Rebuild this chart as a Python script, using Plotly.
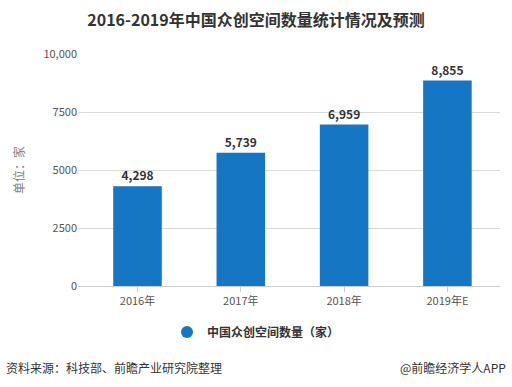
import plotly.graph_objects as go

categories = ["2016年", "2017年", "2018年", "2019年E"]
values = [4298, 5739, 6959, 8855]
value_labels = ["4,298", "5,739", "6,959", "8,855"]
y_tickvals = [0, 2500, 5000, 7500, 10000]
y_ticktext = ["0", "2500", "5000", "7500", "10,000"]
series_name = "中国众创空间数量（家）"

FONT = "Noto Sans CJK SC, Microsoft YaHei, sans-serif"
BAR = "#1576c4"

fig = go.Figure()
fig.add_trace(go.Bar(
    x=list(range(len(categories))), y=values, width=0.47,
    marker=dict(color=BAR, line=dict(width=0)),
    text=["<b>%s</b>" % t for t in value_labels], textposition="outside", cliponaxis=False,
    textfont=dict(family=FONT, size=12, color="#333333"),
    showlegend=False,
))
fig.add_trace(go.Scatter(
    x=[None], y=[None], mode="markers", name="<b>%s</b>" % series_name,
    marker=dict(symbol="circle", size=13, color=BAR),
))

fig.update_layout(
    width=512, height=387,
    margin=dict(l=78, r=12, t=54, b=101, autoexpand=False),
    paper_bgcolor="white", plot_bgcolor="white",
    font=dict(family=FONT, color="#555555", size=11),
    title=dict(text="<b>2016-2019年中国众创空间数量统计情况及预测</b>",
               x=0.5, xref="container", xanchor="center",
               y=1 - 20 / 387, yref="container", yanchor="middle",
               font=dict(family=FONT, size=16, color="#333333")),
    xaxis=dict(tickmode="array", tickvals=list(range(len(categories))), ticktext=categories,
               range=[-0.576, 3.509], showgrid=False, showline=True, linecolor="#cccccc",
               ticks="outside", ticklen=5, tickcolor="#cccccc",
               tickfont=dict(family=FONT, size=11, color="#555555")),
    yaxis=dict(range=[0, 10000], tickmode="array", tickvals=y_tickvals, ticktext=y_ticktext,
               showgrid=True, gridcolor="#d9d9d9", gridwidth=1, zeroline=False,
               ticks="", tickfont=dict(family=FONT, size=11, color="#555555")),
    legend=dict(orientation="h", x=(256 - 78) / 422, xanchor="center",
                y=-(332 - 286) / 232, yanchor="middle",
                font=dict(family=FONT, size=12, color="#333333"),
                itemsizing="constant"),
    showlegend=True,
    bargap=0.5,
)

fig.add_annotation(text="单位：家", textangle=-90, xref="paper", yref="paper",
                   x=(18 - 78) / 422, xanchor="center", y=(286 - 170) / 232, yanchor="middle",
                   showarrow=False, font=dict(family=FONT, size=12, color="#808080"))
fig.add_annotation(text="资料来源：科技部、前瞻产业研究院整理", xref="paper", yref="paper",
                   x=(4 - 78) / 422, xanchor="left", y=-(367 - 286) / 232, yanchor="middle",
                   showarrow=False, font=dict(family=FONT, size=12, color="#333333"))
fig.add_annotation(text="@前瞻经济学人APP", xref="paper", yref="paper",
                   x=(508 - 78) / 422, xanchor="right", y=-(367 - 286) / 232, yanchor="middle",
                   showarrow=False, font=dict(family=FONT, size=12, color="#333333"))

fig.write_html("out.html", config={"displayModeBar": False},
               post_script="document.body.style.margin='0';document.body.style.overflow='hidden';")
